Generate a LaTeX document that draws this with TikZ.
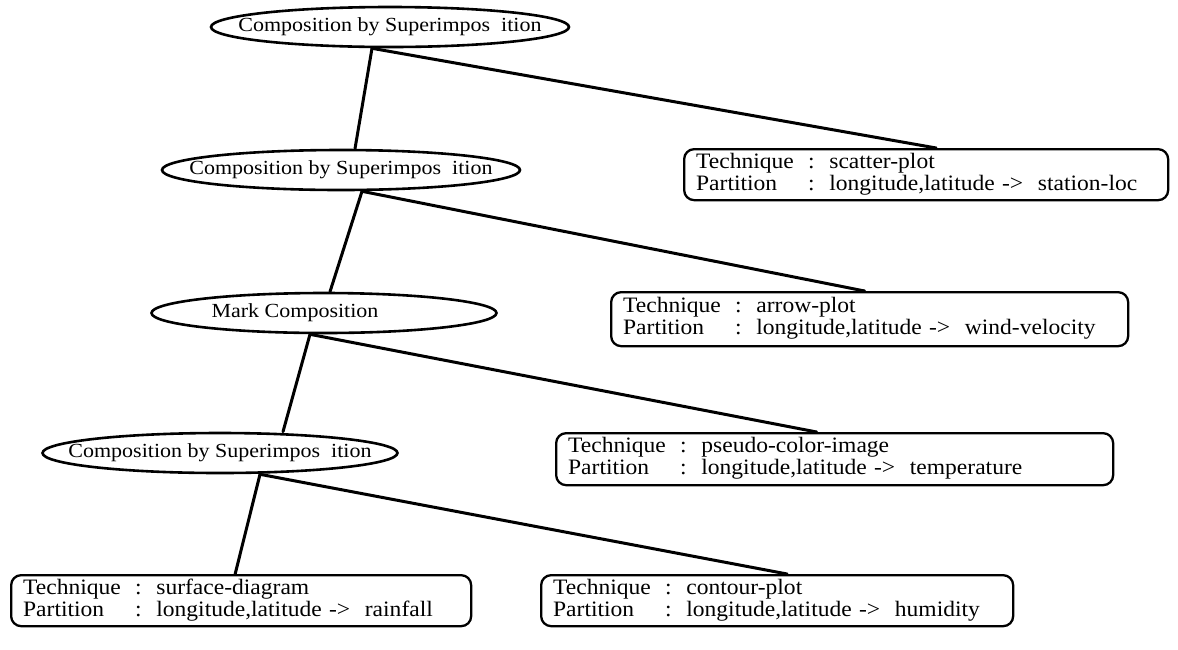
\documentclass[tikz,border=0pt]{standalone}
\usepackage{fontspec}
\setmainfont{Liberation Serif}
\newfontfamily\widefont[FakeStretch=1.1]{Liberation Serif}
\newfontfamily\boxfont[FakeStretch=1.07]{Liberation Serif}
\usetikzlibrary{shapes.geometric}
\newcommand{\tpbox}[2]{\begin{tabular}{@{}p{112pt}@{}l@{}}Technique & :\ \ #1\\ Partition & :\ \ #2\end{tabular}}
\begin{document}
\begin{tikzpicture}[x=1pt,y=-1pt,
 ell/.style={ellipse, draw, line width=2.6pt, inner sep=0pt, minimum height=40pt},
 elltext/.style={font=\widefont\fontsize{20}{24}\selectfont, inner sep=0pt},
 tbox/.style={draw, rounded corners=10pt, line width=2.3pt, anchor=north west, align=left, inner xsep=12pt, inner ysep=2pt, font=\boxfont\fontsize{22}{22}\selectfont},
 conn/.style={line width=3pt, line cap=round}]
\useasboundingbox (0,0) rectangle (1178,649);
% ellipses
\node[ell, minimum width=358pt, label={[elltext]center:Composition by Superimpos\ \ ition}] (e1) at (390,27) {};
\node[ell, minimum width=358pt, label={[elltext]center:Composition by Superimpos\ \ ition}] (e2) at (341,170) {};
\node[ell, minimum width=345pt, label={[elltext, xshift=-29pt]center:Mark Composition}] (e3) at (324,313) {};
\node[ell, minimum width=355pt, label={[elltext]center:Composition by Superimpos\ \ ition}] (e4) at (220,453) {};
% boxes
\node[tbox, text width=460pt, minimum height=51pt] (b1) at (683,148) {\tpbox{scatter-plot}{longitude,latitude ->\ \ station-loc}};
\node[tbox, text width=493pt, minimum height=54pt] (b2) at (610,291) {\tpbox{arrow-plot}{longitude,latitude ->\ \ wind-velocity}};
\node[tbox, text width=533pt, minimum height=52pt] (b3) at (555,432) {\tpbox{pseudo-color-image}{longitude,latitude ->\ \ temperature}};
\node[tbox, text width=436pt, minimum height=51pt] (b4) at (10,574) {\tpbox{surface-diagram}{longitude,latitude ->\ \ rainfall}};
\node[tbox, text width=448pt, minimum height=51pt] (b5) at (540,574) {\tpbox{contour-plot}{longitude,latitude ->\ \ humidity}};
% connectors
\draw[conn] ([xshift=-18pt]e1.south) -- ([xshift=14pt]e2.north);
\draw[conn] ([xshift=-18pt]e1.south) -- ([xshift=10pt]b1.north);
\draw[conn] ([xshift=21pt]e2.south) -- ([xshift=6pt]e3.north);
\draw[conn] ([xshift=21pt]e2.south) -- ([xshift=-5pt]b2.north);
\draw[conn] ([xshift=-14pt]e3.south) -- ([xshift=63pt]e4.north);
\draw[conn] ([xshift=-14pt]e3.south) -- ([xshift=-18pt]b3.north);
\draw[conn] ([xshift=40pt]e4.south) -- ([xshift=-6pt]b4.north);
\draw[conn] ([xshift=40pt]e4.south) -- ([xshift=10pt]b5.north);
\end{tikzpicture}
\end{document}
